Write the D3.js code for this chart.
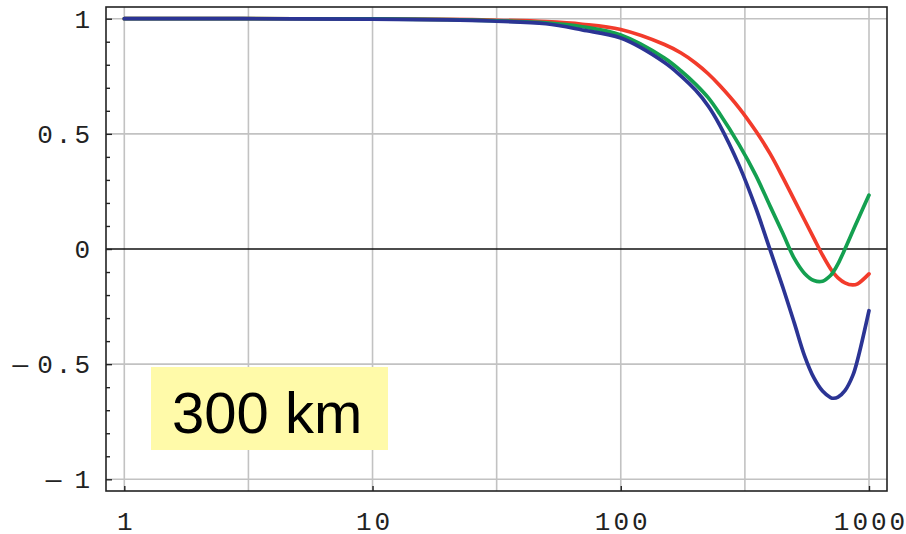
<!DOCTYPE html>
<html>
<head>
<meta charset="utf-8">
<script src="https://cdn.jsdelivr.net/npm/d3@7"></script>
<style>
  body { margin: 0; background: #fff; }
</style>
</head>
<body>
<div id="chart"></div>
<script>
// distances (x, log scale) and the three curves
const xs = [1, 3, 10, 20, 30, 50, 70, 100, 150, 175, 200, 225, 250, 300, 350, 400, 450, 500, 550, 600, 650, 700, 720, 750, 800, 860, 900, 1000];
const redVals = [1.0, 1.0, 0.999, 0.997, 0.994, 0.987, 0.976, 0.953, 0.888, 0.851, 0.808, 0.761, 0.711, 0.612, 0.512, 0.413, 0.31, 0.213, 0.126, 0.046, -0.027, -0.086, -0.104, -0.125, -0.147, -0.156, -0.151, -0.108];
const greenVals = [1.0, 1.0, 0.999, 0.996, 0.992, 0.982, 0.965, 0.929, 0.829, 0.773, 0.716, 0.657, 0.588, 0.452, 0.32, 0.185, 0.067, -0.041, -0.106, -0.137, -0.14, -0.115, -0.098, -0.065, 0.0, 0.077, 0.125, 0.234];
const blueVals = [1.0, 1.0, 0.998, 0.995, 0.99, 0.978, 0.951, 0.916, 0.81, 0.751, 0.69, 0.621, 0.539, 0.362, 0.178, -0.005, -0.167, -0.321, -0.464, -0.56, -0.617, -0.645, -0.648, -0.643, -0.615, -0.55, -0.48, -0.268];

const xTicks = [1, 10, 100, 1000];
const xGrid = [1, 3.1623, 10, 31.623, 100, 316.23, 1000];
const yTicks = [-1, -0.5, 0, 0.5, 1];
const yGrid = [-1, -0.5, 0.5, 1];
const yMinor = d3.range(-10, 11).filter(d => d % 5 !== 0).map(d => d / 10);
const labelText = "300 km";

const series = [
  { name: "red", values: redVals, color: "#f23b2b" },
  { name: "green", values: greenVals, color: "#14a050" },
  { name: "blue", values: blueVals, color: "#2b3494" },
];

const W = 906, H = 534;
const FRAME = { LEFT: 106, RIGHT: 887, TOP: 7, BOTTOM: 491 };
const TICK_FONT = "'Liberation Mono', 'DejaVu Sans Mono', monospace";

const x = d3.scaleLog().domain([1, 1000]).range([124.3, 869]);
const y = d3.scaleLinear().domain([-1, 1]).range([479.3, 18.7]);

const svg = d3.select("#chart")
  .append("svg")
  .attr("width", W)
  .attr("height", H)
  .attr("viewBox", [0, 0, W, H])
  .style("background-color", "white");

svg.append("defs").append("clipPath")
  .attr("id", "plot-clip")
  .append("rect")
  .attr("x", FRAME.LEFT)
  .attr("y", FRAME.TOP)
  .attr("width", FRAME.RIGHT - FRAME.LEFT)
  .attr("height", FRAME.BOTTOM - FRAME.TOP);

// grid
const grid = svg.append("g").attr("clip-path", "url(#plot-clip)");
grid.selectAll(".vgrid")
  .data(xGrid)
  .enter()
  .append("line")
  .attr("class", "vgrid")
  .attr("x1", d => x(d))
  .attr("x2", d => x(d))
  .attr("y1", FRAME.TOP)
  .attr("y2", FRAME.BOTTOM)
  .attr("stroke", "#c2c2c2")
  .attr("stroke-width", 1.6);

grid.selectAll(".hgrid")
  .data(yGrid)
  .enter()
  .append("line")
  .attr("class", "hgrid")
  .attr("x1", FRAME.LEFT)
  .attr("x2", FRAME.RIGHT)
  .attr("y1", d => y(d))
  .attr("y2", d => y(d))
  .attr("stroke", "#c2c2c2")
  .attr("stroke-width", 1.6);

grid.append("line")
  .attr("x1", FRAME.LEFT)
  .attr("x2", FRAME.RIGHT)
  .attr("y1", y(0))
  .attr("y2", y(0))
  .attr("stroke", "#111")
  .attr("stroke-width", 1.6);

// label box (sits over the grid)
svg.append("rect")
  .attr("x", 151)
  .attr("y", 367)
  .attr("width", 237)
  .attr("height", 83)
  .attr("fill", "#fffaa9");

svg.append("text")
  .attr("x", 172)
  .attr("y", 433)
  .style("font-family", "'Liberation Sans', Arial, Helvetica, sans-serif")
  .style("font-size", "58px")
  .attr("fill", "#000")
  .text(labelText);

// curves
const line = d3.line()
  .x((d, i) => x(xs[i]))
  .y(d => y(d))
  .curve(d3.curveCatmullRom.alpha(0.5));

svg.append("g")
  .attr("clip-path", "url(#plot-clip)")
  .selectAll("path")
  .data(series)
  .enter()
  .append("path")
  .attr("d", d => line(d.values))
  .attr("fill", "none")
  .attr("stroke", d => d.color)
  .attr("stroke-width", 3.7)
  .attr("stroke-linejoin", "round")
  .attr("stroke-linecap", "round");

// frame
svg.append("rect")
  .attr("x", FRAME.LEFT)
  .attr("y", FRAME.TOP)
  .attr("width", FRAME.RIGHT - FRAME.LEFT)
  .attr("height", FRAME.BOTTOM - FRAME.TOP)
  .attr("fill", "none")
  .attr("stroke", "#222")
  .attr("stroke-width", 1.6);

// y axis: major + minor ticks pointing inward
const yAxis = svg.append("g")
  .attr("transform", `translate(${FRAME.LEFT},0)`)
  .call(d3.axisLeft(y).tickValues(yTicks).tickSize(-6).tickPadding(13).tickFormat(""));

svg.append("g")
  .attr("transform", `translate(${FRAME.LEFT},0)`)
  .call(d3.axisLeft(y).tickValues(yMinor).tickSize(-4).tickFormat(""))
  .call(g => g.select(".domain").remove());

yAxis.select(".domain").remove();

// negative labels: long dash, then a gap before the digits
yAxis.selectAll(".tick text").each(function (d) {
  const t = d3.select(this);
  const s = d3.format("~g")(Math.abs(d));
  if (d < 0) {
    t.append("tspan").text("\u2014");
    t.append("tspan").attr("dx", s.length > 1 ? 6 : 10).text(s);
  } else {
    t.text(s);
  }
});

// x axis
const xAxis = svg.append("g")
  .attr("transform", `translate(0,${FRAME.BOTTOM})`)
  .call(d3.axisBottom(x).tickValues(xTicks).tickSize(-5).tickPadding(21).tickFormat(d3.format("d")));

xAxis.select(".domain").remove();
xAxis.selectAll("text").attr("dx", 1.5);

svg.selectAll(".tick line")
  .attr("stroke", "#222")
  .attr("stroke-width", 1.4);

svg.selectAll(".tick text")
  .style("font-family", TICK_FONT)
  .style("font-size", "26px")
  .style("letter-spacing", "3px")
  .attr("fill", "#222");
</script>
</body>
</html>
